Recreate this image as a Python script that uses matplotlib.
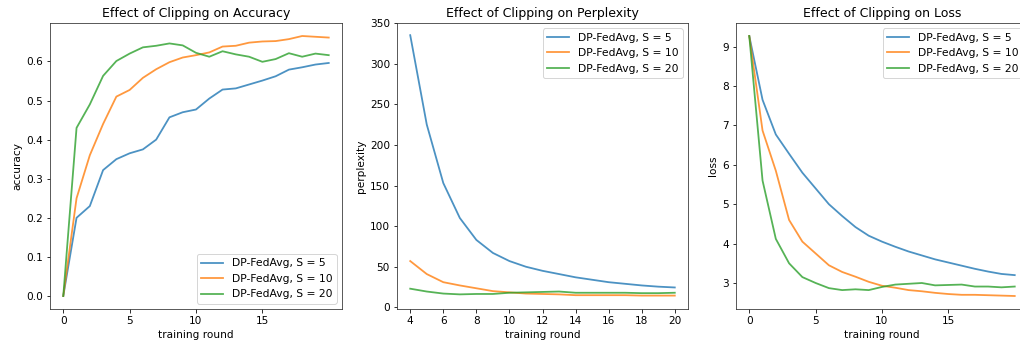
import matplotlib
matplotlib.use("Agg")
import matplotlib.pyplot as plt

# rounds
rounds = list(range(0, 21))
ppl_rounds = list(range(4, 21))

labels = ["DP-FedAvg, S = 5", "DP-FedAvg, S = 10", "DP-FedAvg, S = 20"]

acc_s5 = [0.0, 0.20, 0.23, 0.322, 0.35, 0.365, 0.375, 0.40, 0.457, 0.47, 0.477,
          0.505, 0.528, 0.531, 0.541, 0.551, 0.562, 0.579, 0.585, 0.592, 0.596]
acc_s10 = [0.0, 0.25, 0.36, 0.44, 0.51, 0.527, 0.558, 0.58, 0.598, 0.61, 0.616,
           0.623, 0.638, 0.64, 0.648, 0.651, 0.652, 0.657, 0.665, 0.663, 0.661]
acc_s20 = [0.0, 0.43, 0.49, 0.563, 0.601, 0.62, 0.636, 0.64, 0.646, 0.641, 0.622,
           0.612, 0.626, 0.618, 0.612, 0.599, 0.606, 0.621, 0.612, 0.62, 0.616]

ppl_s5 = [335, 225, 153, 110, 83, 67, 57, 50, 45, 41, 37, 34, 31, 29, 27, 25.5, 24.5]
ppl_s10 = [57, 41, 31, 27, 23.5, 20, 18.5, 17, 16.5, 16, 15, 15, 15, 15, 14.5, 14.5, 14.5]
ppl_s20 = [23, 19.5, 17, 16, 16.5, 16.5, 18, 18.5, 19, 19.5, 18, 18, 18, 18, 17.5, 17.5, 18]

loss_s5 = [9.27, 7.65, 6.77, 6.28, 5.8, 5.4, 5.0, 4.7, 4.42, 4.2, 4.05,
           3.92, 3.8, 3.7, 3.6, 3.52, 3.44, 3.36, 3.29, 3.23, 3.2]
loss_s10 = [9.27, 6.87, 5.85, 4.6, 4.05, 3.75, 3.45, 3.28, 3.16, 3.03, 2.93,
            2.88, 2.82, 2.79, 2.75, 2.72, 2.7, 2.7, 2.69, 2.68, 2.67]
loss_s20 = [9.27, 5.6, 4.12, 3.5, 3.15, 3.0, 2.87, 2.82, 2.84, 2.82, 2.9,
            2.96, 2.98, 3.0, 2.94, 2.95, 2.96, 2.91, 2.91, 2.89, 2.91]

plt.rcParams['font.size'] = 10.5
plt.rcParams['legend.fontsize'] = 10.8
plt.rcParams['axes.titlesize'] = 12.5
plt.rcParams['axes.edgecolor'] = '#333333'

W, H = 1020, 347
fig = plt.figure(figsize=(W / 72, H / 72), dpi=72)

def axes_at(x0, x1, y0=23, y1=309):
  return fig.add_axes([x0 / W, (H - y1) / H, (x1 - x0) / W, (y1 - y0) / H])

ax1 = axes_at(50, 342)
ax2 = axes_at(397, 688)
ax3 = axes_at(736, 1028)

lw = 1.8
for ys, lab in zip([acc_s5, acc_s10, acc_s20], labels):
  ax1.plot(rounds, ys, label=lab, linewidth=lw, alpha=0.8)
ax1.set_title("Effect of Clipping on Accuracy")
ax1.set_xlabel("training round")
ax1.set_ylabel("accuracy")
ax1.set_xticks([0, 5, 10, 15])
ax1.legend(loc="lower right")

for ys, lab in zip([ppl_s5, ppl_s10, ppl_s20], labels):
  ax2.plot(ppl_rounds, ys, label=lab, linewidth=lw, alpha=0.8)
ax2.set_title("Effect of Clipping on Perplexity")
ax2.set_xlabel("training round")
ax2.set_ylabel("perplexity")
ax2.set_ylim(-2, 350)
ax2.set_xticks(range(4, 21, 2))
ax2.legend(loc="upper right")

for ys, lab in zip([loss_s5, loss_s10, loss_s20], labels):
  ax3.plot(rounds, ys, label=lab, linewidth=lw, alpha=0.8)
ax3.set_title("Effect of Clipping on Loss")
ax3.set_xlabel("training round")
ax3.set_ylabel("loss")
ax3.set_xticks([0, 5, 10, 15])
ax3.legend(loc="upper right")

fig.savefig("out.png", dpi=72)
